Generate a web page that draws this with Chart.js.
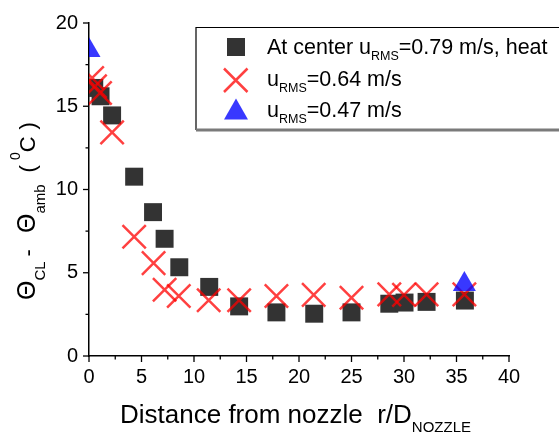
<!DOCTYPE html>
<html>
<head>
<meta charset="utf-8">
<script src="https://cdn.jsdelivr.net/npm/chart.js@4.4.0/dist/chart.umd.min.js"></script>
<style>
  body { margin: 0; background: #fff; }
  #wrap { width: 559px; height: 439px; }
</style>
</head>
<body>
<div id="wrap"><canvas id="c"></canvas></div>
<script>
// At center u_RMS = 0.79 m/s, heat (squares)
const centerX = [0.5, 1.1, 2.2, 4.3, 6.1, 7.2, 8.6, 11.45, 14.3, 17.85, 21.45, 25.0, 28.6, 30.05, 32.15, 35.8];
const centerY = [16.1, 15.6, 14.45, 10.77, 8.64, 7.04, 5.33, 4.15, 2.98, 2.62, 2.54, 2.62, 3.14, 3.21, 3.25, 3.33];
// u_RMS = 0.64 m/s (crosses)
const mid64X = [0.3, 0.57, 1.05, 2.2, 4.3, 6.15, 7.2, 8.55, 11.4, 14.3, 17.85, 21.4, 25.0, 28.6, 30.0, 32.15, 35.75];
const mid64Y = [16.7, 16.2, 15.8, 13.43, 7.16, 5.58, 3.98, 3.6, 3.35, 3.35, 3.6, 3.67, 3.5, 3.7, 3.67, 3.7, 3.7];
// u_RMS = 0.47 m/s (triangles)
const low47X = [0, 35.75];
const low47Y = [18.35, 4.3];

const xTicks = [0, 5, 10, 15, 20, 25, 30, 35, 40];
const yTicks = [0, 5, 10, 15, 20];

const FAMILY = '"Liberation Sans", Arial, Helvetica, sans-serif';
const SQUARE = '#333333';
const RED = 'rgba(255, 0, 0, 0.75)';
const BLUE = 'rgba(0, 0, 255, 0.78)';

function pts(xs, ys) {
    return xs.map((x, i) => ({ x: x, y: ys[i] }));
}

function drawRich(ctx, parts, x, y) {
    let cx = x;
    parts.forEach(p => {
        cx += p.gap || 0;
        ctx.font = p.size + 'px ' + FAMILY;
        ctx.fillText(p.text, cx, y + (p.dy || 0));
        cx += ctx.measureText(p.text).width;
    });
}

const xTitle = [
    { text: 'Distance from nozzle  r/D', size: 26 },
    { text: 'NOZZLE', size: 15, dy: 9 }
];
const yTitle = [
    { text: 'Θ', size: 25 },
    { text: 'CL', size: 15, dy: 10 },
    { text: '-', size: 22, gap: 5 },
    { text: 'Θ', size: 25, gap: 16 },
    { text: 'amb', size: 15, dy: 10 },
    { text: '(', size: 22, gap: 12 },
    { text: '0', size: 14, dy: -15, gap: 5 },
    { text: 'C', size: 22 },
    { text: ')', size: 22, gap: 7 }
];
const legendRows = [
    [{ text: 'At center u', size: 21.5 }, { text: 'RMS', size: 12.5, dy: 6 }, { text: '=0.79 m/s, heat', size: 21.5 }],
    [{ text: 'u', size: 21.5 }, { text: 'RMS', size: 12.5, dy: 6 }, { text: '=0.64 m/s', size: 21.5 }],
    [{ text: 'u', size: 21.5 }, { text: 'RMS', size: 12.5, dy: 6 }, { text: '=0.47 m/s', size: 21.5 }]
];

const decor = {
    id: 'decor',
    afterDraw(chart) {
        const ctx = chart.ctx;
        const xs = chart.scales.x, ys = chart.scales.y;
        const area = chart.chartArea;
        ctx.save();
        ctx.strokeStyle = '#000';
        ctx.lineWidth = 1.3;
        // axis ticks, major and minor
        for (let v = 0; v <= 40; v += 2.5) {
            const px = xs.getPixelForValue(v);
            const len = v % 5 === 0 ? 6 : 3.5;
            ctx.beginPath();
            ctx.moveTo(px, area.bottom);
            ctx.lineTo(px, area.bottom + len);
            ctx.stroke();
        }
        for (let v = 0; v <= 20; v += 2.5) {
            const py = ys.getPixelForValue(v);
            const len = v % 5 === 0 ? 6 : 3.5;
            ctx.beginPath();
            ctx.moveTo(area.left, py);
            ctx.lineTo(area.left - len, py);
            ctx.stroke();
        }

        ctx.fillStyle = '#000';
        ctx.textBaseline = 'alphabetic';
        ctx.textAlign = 'left';
        drawRich(ctx, xTitle, 120, 423);

        ctx.save();
        ctx.translate(35, 300);
        ctx.rotate(-Math.PI / 2);
        drawRich(ctx, yTitle, 0, 0);
        ctx.restore();

        // legend box
        ctx.fillStyle = '#fff';
        ctx.fillRect(196, 27.5, 380, 102);
        ctx.strokeStyle = '#000';
        ctx.lineWidth = 1.2;
        ctx.beginPath();
        ctx.moveTo(570, 27.5);
        ctx.lineTo(196, 27.5);
        ctx.lineTo(196, 130);
        ctx.stroke();
        ctx.strokeStyle = '#7a7a7a';
        ctx.lineWidth = 3;
        ctx.beginPath();
        ctx.moveTo(196, 130);
        ctx.lineTo(570, 130);
        ctx.stroke();

        // legend symbols
        ctx.fillStyle = SQUARE;
        ctx.fillRect(227, 38, 18, 18);
        ctx.strokeStyle = RED;
        ctx.lineWidth = 2.5;
        ctx.beginPath();
        ctx.moveTo(224, 68.5); ctx.lineTo(247.5, 92);
        ctx.moveTo(247.5, 68.5); ctx.lineTo(224, 92);
        ctx.stroke();
        ctx.fillStyle = BLUE;
        ctx.beginPath();
        ctx.moveTo(236, 98.5);
        ctx.lineTo(248, 119.5);
        ctx.lineTo(224, 119.5);
        ctx.closePath();
        ctx.fill();

        ctx.fillStyle = '#000';
        const base = [54.3, 86, 116.7];
        legendRows.forEach((row, i) => drawRich(ctx, row, 267, base[i]));
        ctx.restore();
    }
};

const tickFont = { size: 20, family: FAMILY };

new Chart(document.getElementById('c'), {
    type: 'scatter',
    data: {
        datasets: [
            {
                label: 'u_RMS=0.47 m/s',
                data: pts(low47X, low47Y),
                pointStyle: 'triangle',
                pointRadius: 13.3,
                pointBackgroundColor: BLUE,
                pointBorderColor: BLUE,
                pointBorderWidth: 0,
                order: 0,
                clip: 0
            },
            {
                label: 'u_RMS=0.64 m/s',
                data: pts(mid64X, mid64Y),
                pointStyle: 'crossRot',
                pointRadius: 16.5,
                pointBackgroundColor: RED,
                pointBorderColor: RED,
                pointBorderWidth: 2.5,
                order: 1,
                clip: 0
            },
            {
                label: 'At center u_RMS=0.79 m/s, heat',
                data: pts(centerX, centerY),
                pointStyle: 'rect',
                pointRadius: 12.7,
                pointBackgroundColor: SQUARE,
                pointBorderColor: SQUARE,
                pointBorderWidth: 0,
                order: 2,
                clip: 0
            }
        ]
    },
    options: {
        responsive: true,
        maintainAspectRatio: false,
        animation: false,
        layout: { padding: { left: 0, top: 17.5, right: 50, bottom: 0 } },
        plugins: {
            legend: { display: false },
            tooltip: { enabled: false }
        },
        scales: {
            x: {
                type: 'linear',
                min: 0,
                max: 40,
                afterBuildTicks: s => { s.ticks = xTicks.map(v => ({ value: v })); },
                ticks: { font: tickFont, color: '#000', padding: 9, maxRotation: 0 },
                grid: { display: false, drawTicks: false },
                border: { display: true, color: '#000', width: 1.5 },
                afterFit: s => { s.height = 83; }
            },
            y: {
                type: 'linear',
                min: 0,
                max: 20,
                afterBuildTicks: s => { s.ticks = yTicks.map(v => ({ value: v })); },
                ticks: { font: tickFont, color: '#000', padding: 11 },
                grid: { display: false, drawTicks: false },
                border: { display: true, color: '#000', width: 1.5 },
                afterFit: s => { s.width = 89; }
            }
        }
    },
    plugins: [decor]
});
</script>
</body>
</html>
